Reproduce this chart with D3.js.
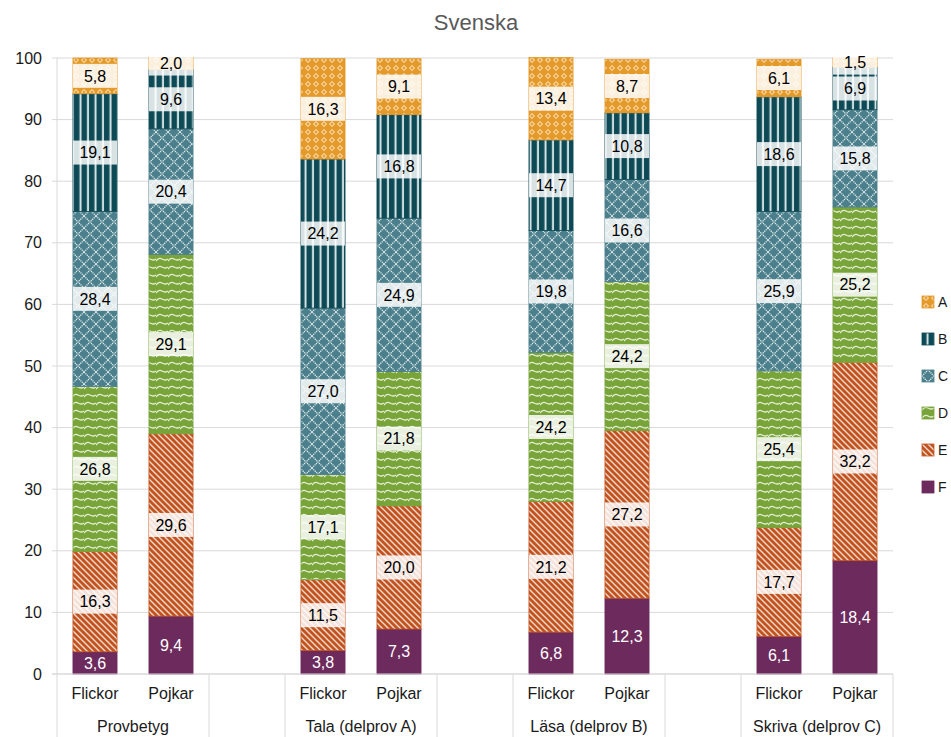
<!DOCTYPE html>
<html>
<head>
<meta charset="utf-8">
<script src="https://cdn.jsdelivr.net/npm/d3@7"></script>
<style>
  body { margin: 0; background: #fff; }
  svg { font-family: "Liberation Sans", Arial, sans-serif; }
</style>
</head>
<body>
<svg width="951" height="737"></svg>
<script>
// data
var groups = ["Provbetyg", "Tala (delprov A)", "Läsa (delprov B)", "Skriva (delprov C)"];
var genders = ["Flickor", "Pojkar"];
var grades = ["F", "E", "D", "C", "B", "A"];   // bottom to top
// bars in order: Provbetyg F/P, Tala F/P, Läsa F/P, Skriva F/P
var valF = [3.6, 9.4, 3.8, 7.3, 6.8, 12.3, 6.1, 18.4];
var valE = [16.3, 29.6, 11.5, 20.0, 21.2, 27.2, 17.7, 32.2];
var valD = [26.8, 29.1, 17.1, 21.8, 24.2, 24.2, 25.4, 25.2];
var valC = [28.4, 20.4, 27.0, 24.9, 19.8, 16.6, 25.9, 15.8];
var valB = [19.1, 9.6, 24.2, 16.8, 14.7, 10.8, 18.6, 6.9];
var valA = [5.8, 2.0, 16.3, 9.1, 13.4, 8.7, 6.1, 1.5];
var yTicks = [0, 10, 20, 30, 40, 50, 60, 70, 80, 90, 100];

var svg = d3.select("svg"),
    plotLeft = 57, plotRight = 893, plotTop = 58, plotBottom = 674;

// build slot list: each group has 2 bars, blank slot between groups
var slots = [], rows = [];
var series = { F: valF, E: valE, D: valD, C: valC, B: valB, A: valA };
groups.forEach(function(g, gi) {
  genders.forEach(function(s, si) {
    var i = gi * 2 + si;
    var row = { key: g + "|" + s, group: g, gender: s };
    grades.forEach(function(k) { row[k] = series[k][i]; });
    rows.push(row);
    slots.push(row.key);
  });
  if (gi < groups.length - 1) slots.push("blank" + gi);
});

var x = d3.scaleBand().domain(slots).range([plotLeft, plotRight])
    .paddingInner(0.42).paddingOuter(0.21);
var step = x.step();
var y = d3.scaleLinear().domain([0, 100]).range([plotBottom, plotTop]);

// patterns
var defs = svg.append("defs");
var colors = { A: "#e39a2b", B: "#0d4a55", C: "#4b7f8b", D: "#78a43a", E: "#c2531f", F: "#6d2a5d" };

var pA = defs.append("pattern").attr("id", "pat-A").attr("patternUnits", "userSpaceOnUse")
    .attr("width", 8).attr("height", 8);
pA.append("rect").attr("width", 8).attr("height", 8).attr("fill", colors.A);
pA.append("path").attr("d", "M4,1 L7,4 L4,7 L1,4 Z").attr("fill", "#fbe6c0");
pA.append("rect").attr("x", 3.3).attr("y", 2.5).attr("width", 1.4).attr("height", 3).attr("fill", colors.A);
pA.append("rect").attr("x", 2.5).attr("y", 3.3).attr("width", 3).attr("height", 1.4).attr("fill", colors.A);

var pB = defs.append("pattern").attr("id", "pat-B").attr("patternUnits", "userSpaceOnUse")
    .attr("width", 7.5).attr("height", 8);
pB.append("rect").attr("width", 7.5).attr("height", 8).attr("fill", colors.B);
pB.append("rect").attr("x", 4.5).attr("width", 2).attr("height", 8).attr("fill", "#d6e4e6");

var pC = defs.append("pattern").attr("id", "pat-C").attr("patternUnits", "userSpaceOnUse")
    .attr("width", 12).attr("height", 12);
pC.append("rect").attr("width", 12).attr("height", 12).attr("fill", colors.C);
pC.append("path").attr("d", "M0,0 L12,12 M12,0 L0,12").attr("stroke", "#dce8ea")
    .attr("stroke-width", 1.3).attr("stroke-dasharray", "1.2,0.8");

var pD = defs.append("pattern").attr("id", "pat-D").attr("patternUnits", "userSpaceOnUse")
    .attr("width", 12).attr("height", 8);
pD.append("rect").attr("width", 12).attr("height", 8).attr("fill", colors.D);
pD.append("path").attr("d", "M0,5 Q3,1 6,3 T12,3").attr("fill", "none")
    .attr("stroke", "#e6efd6").attr("stroke-width", 1.3);

var pE = defs.append("pattern").attr("id", "pat-E").attr("patternUnits", "userSpaceOnUse")
    .attr("width", 6).attr("height", 6);
pE.append("rect").attr("width", 6).attr("height", 6).attr("fill", colors.E);
pE.append("path").attr("d", "M-1,-1 L7,7 M-4,2 L2,8 M2,-4 L8,2").attr("stroke", "#f3d9cc")
    .attr("stroke-width", 1.4);

function fillFor(k) { return k === "F" ? colors.F : "url(#pat-" + k + ")"; }

// gridlines
svg.append("g").selectAll("line").data(yTicks).enter().append("line")
    .attr("x1", plotLeft - 5).attr("x2", plotRight)
    .attr("y1", function(d) { return y(d); }).attr("y2", function(d) { return y(d); })
    .attr("stroke", "#d9d9d9").attr("stroke-width", 1);

// y axis line
svg.append("line").attr("x1", plotLeft).attr("x2", plotLeft).attr("y1", plotTop).attr("y2", plotBottom)
    .attr("stroke", "#d9d9d9");

svg.append("g").selectAll("text").data(yTicks).enter().append("text")
    .attr("x", 42).attr("y", function(d) { return y(d); }).attr("dy", "0.35em")
    .attr("text-anchor", "end").attr("font-size", 16).attr("fill", "#1a1a1a")
    .text(function(d) { return d; });

// stacked bars
var stack = d3.stack().keys(grades)(rows);
var layer = svg.append("g").selectAll("g").data(stack).enter().append("g");

layer.selectAll("rect").data(function(d) { return d.map(function(p) { p.k = d.key; return p; }); })
  .enter().append("rect")
    .attr("x", function(d) { return x(d.data.key); })
    .attr("width", x.bandwidth())
    .attr("y", function(d) { return y(d[1]); })
    .attr("height", function(d) { return y(d[0]) - y(d[1]); })
    .attr("fill", function(d) { return fillFor(d.k); })
    .attr("stroke", function(d) { return colors[d.k]; })
    .attr("stroke-width", 0.8);

// labels
var fmt = function(v) { return d3.format(".1f")(v).replace(".", ","); };
var labels = layer.selectAll("g.lbl").data(function(d) { return d; })
  .enter().append("g").attr("class", "lbl")
    .attr("transform", function(d) {
      return "translate(" + (x(d.data.key) + x.bandwidth() / 2) + "," + y((d[0] + d[1]) / 2) + ")";
    });

labels.filter(function(d) { return d.k !== "F"; }).append("rect")
    .attr("x", -x.bandwidth() / 2).attr("width", x.bandwidth())
    .attr("y", -12).attr("height", 24)
    .attr("fill", "#ffffff").attr("fill-opacity", 0.84);

labels.append("text")
    .attr("text-anchor", "middle").attr("dy", "0.36em")
    .attr("font-size", 16)
    .attr("fill", function(d) { return d.k === "F" ? "#ffffff" : "#000"; })
    .text(function(d) { return fmt(d.data[d.k]); });

// x axis
svg.append("line").attr("x1", plotLeft - 5).attr("x2", plotRight).attr("y1", plotBottom).attr("y2", plotBottom)
    .attr("stroke", "#d9d9d9");

var seps = [plotLeft];
groups.forEach(function(g, gi) {
  var k = g + "|" + genders[1];
  seps.push(x(k) - step * x.paddingInner() / 2 + step);
  if (gi < groups.length - 1) seps.push(x("blank" + gi) - step * x.paddingInner() / 2 + step);
});
svg.append("g").selectAll("line").data(seps).enter().append("line")
    .attr("x1", function(d) { return d; }).attr("x2", function(d) { return d; })
    .attr("y1", plotBottom).attr("y2", 737)
    .attr("stroke", "#d9d9d9");

svg.append("g").selectAll("text").data(rows).enter().append("text")
    .attr("x", function(d) { return x(d.key) + x.bandwidth() / 2; })
    .attr("y", 699).attr("text-anchor", "middle").attr("font-size", 16).attr("fill", "#1a1a1a")
    .text(function(d) { return d.gender; });

svg.append("g").selectAll("text").data(groups).enter().append("text")
    .attr("x", function(d) {
      return (x(d + "|" + genders[0]) + x(d + "|" + genders[1]) + x.bandwidth()) / 2;
    })
    .attr("y", 732).attr("text-anchor", "middle").attr("font-size", 16).attr("fill", "#1a1a1a")
    .text(function(d) { return d; });

// title
svg.append("text").attr("x", 476).attr("y", 30).attr("text-anchor", "middle")
    .attr("font-size", 22).attr("fill", "#595959").text("Svenska");

// legend
var legend = svg.append("g").selectAll("g").data(grades.slice().reverse()).enter().append("g")
    .attr("transform", function(d, i) { return "translate(922," + (302 + i * 37) + ")"; });
legend.append("rect").attr("x", 0).attr("y", -6).attr("width", 12).attr("height", 12)
    .attr("fill", function(d) { return fillFor(d); })
    .attr("stroke", function(d) { return colors[d]; }).attr("stroke-width", 0.8);
legend.append("text").attr("x", 16).attr("dy", "0.38em").attr("font-size", 14).attr("fill", "#1a1a1a")
    .text(function(d) { return d; });
</script>
</body>
</html>
